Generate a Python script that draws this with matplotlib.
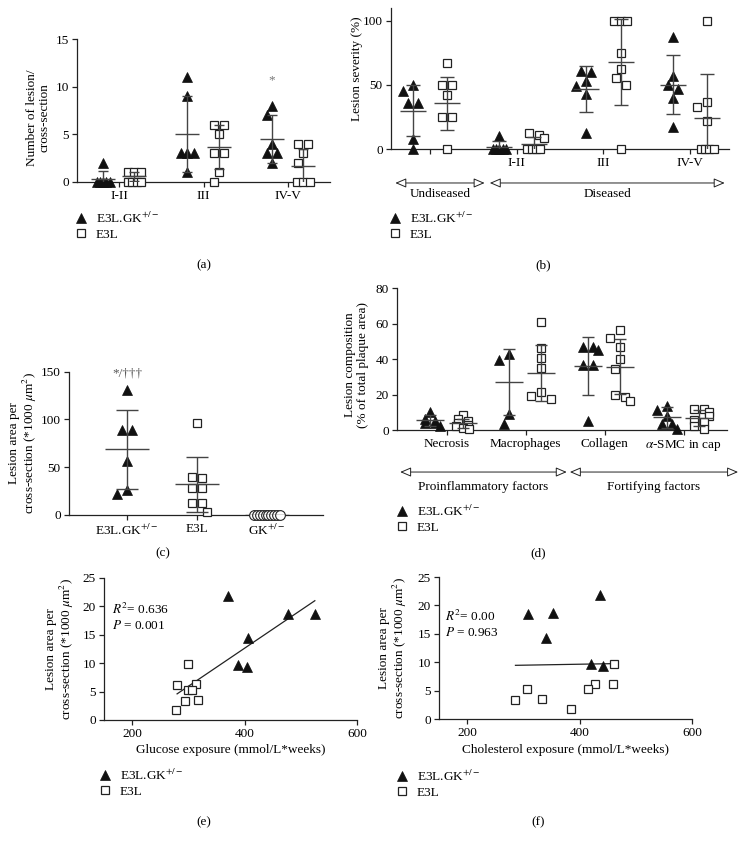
import numpy as np
import matplotlib
matplotlib.use('Agg')
import matplotlib.pyplot as plt
from matplotlib.lines import Line2D
from matplotlib.transforms import blended_transform_factory

plt.rcParams['font.family'] = ['Liberation Serif', 'DejaVu Serif']
plt.rcParams['mathtext.fontset'] = 'stix'
FS = 9.5
plt.rcParams['font.size'] = FS

# ---- données ----
# (a) nombre de lésions par section
a_cats = ['I-II', 'III', 'IV-V']
a_tri = [[2, 0, 0, 0, 0, 0], [11, 9, 3, 3, 3, 1], [8, 7, 4, 3, 3, 2]]
a_sq = [[1, 1, 1, 0, 0, 0, 0], [6, 6, 5, 3, 3, 1, 0], [4, 4, 3, 2, 0, 0, 0]]
a_tri_mean = [0.35, 5.0, 4.5]
a_tri_sd = [0.85, 4.0, 2.5]
a_sq_mean = [0.6, 3.7, 1.7]
a_sq_sd = [0.45, 2.3, 1.8]

# (b) sévérité des lésions (%)
b_cats = ['', 'I-II', 'III', 'IV-V']
b_tri = [[50, 45, 36, 36, 8, 0], [10, 0, 0, 0, 0, 0],
         [61, 60, 53, 49, 43, 12.5], [87, 57, 50, 47, 40, 17]]
b_sq = [[67, 50, 50, 42, 25, 25, 0], [12.5, 11, 8.5, 0, 0, 0, 0],
        [100, 100, 100, 75, 62.5, 55.5, 50, 0], [100, 37, 33, 22, 0, 0, 0, 0]]
b_tri_mean = [30, 1.8, 46.5, 50]
b_tri_sd = [20, 4.6, 18, 23]
b_sq_mean = [35.5, 3.7, 67.6, 24]
b_sq_sd = [20.5, 5.7, 33.5, 34.5]

# (c) surface des lésions
c_cats = ['E3L.GK$^{+/-}$', 'E3L', 'GK$^{+/-}$']
c_tri = [131, 89, 89, 56, 22, 26]
c_sq = [96, 40, 38, 28, 28, 12, 12, 3]
c_circ = [0, 0, 0, 0, 0, 0, 0, 0, 0, 0]
c_mean = [68.5, 32, 0]
c_sd = [42, 29, 0]

# (d) composition des lésions
d_cats = ['Necrosis', 'Macrophages', 'Collagen', '$\\alpha$-SMC in cap']
d_tri = [[10, 6, 5, 4, 4, 2], [42.8, 39.4, 9.2, 3.6],
         [47, 47, 45, 36.6, 36.6, 4.9], [13.6, 11.4, 7.9, 3.6, 3.6, 0.3]]
d_sq = [[8.5, 6, 5, 4, 3, 2, 1, 0.5], [61, 46.4, 40.6, 34.8, 21.5, 19.4, 17.4],
        [56.5, 52, 47, 40, 34.5, 20, 18.5, 16.5], [12, 12, 10, 8, 5.5, 4.5, 2, 0.5]]
d_tri_mean = [5.4, 26.9, 36.1, 7.1]
d_tri_sd = [3, 18.5, 16.2, 6]
d_sq_mean = [3.8, 32.3, 35.7, 7]
d_sq_sd = [2.5, 15.8, 15.5, 4.5]

# (e) glucose
e_tri_x = [370, 477, 525, 406, 389, 404]
e_tri_y = [21.9, 18.7, 18.6, 14.4, 9.7, 9.3]
e_sq_x = [299, 280, 314, 300, 307, 294, 317, 278]
e_sq_y = [9.8, 6.1, 6.3, 5.2, 5.2, 3.4, 3.5, 1.7]
e_fit_x = [280, 525]
e_fit_y = [4.6, 21.0]

# (f) cholestérol
f_tri_x = [436, 309, 353, 341, 420, 441]
f_tri_y = [21.8, 18.5, 18.7, 14.3, 9.6, 9.3]
f_sq_x = [462, 460, 427, 415, 306, 286, 333, 384]
f_sq_y = [9.75, 6.25, 6.1, 5.2, 5.2, 3.4, 3.45, 1.7]
f_fit_x = [286, 462]
f_fit_y = [9.45, 9.75]

W, H = 747, 847
fig = plt.figure(figsize=(W / 100, H / 100), dpi=100)
INK = '#222222'
BAR = '#444444'

MK = {
    'tri': dict(marker='^', ms=6.8, mfc='#111111', mec='#111111', mew=0.5),
    'sq': dict(marker='s', ms=6.2, mfc='white', mec=INK, mew=0.9),
    'circ': dict(marker='o', ms=7, mfc='white', mec=INK, mew=0.8),
}


def add_axes(l, t, r, b):
    return fig.add_axes([l / W, 1 - b / H, (r - l) / W, (b - t) / H])


def style(ax):
    for s in ['top', 'right']:
        ax.spines[s].set_visible(False)
    for s in ['left', 'bottom']:
        ax.spines[s].set_color(INK)
        ax.spines[s].set_linewidth(0.9)
    ax.tick_params(direction='out', length=3.5, width=0.9, color=INK,
                   labelsize=FS, pad=2.5)


def scale(ax):
    pos = ax.get_position()
    x0, x1 = ax.get_xlim()
    y0, y1 = ax.get_ylim()
    return pos.width * W / (x1 - x0), pos.height * H / (y1 - y0)


def swarm(vals, ppx, ppy, spread_px=13, tie_px=3, gap_px=10, hit_px=10):
    # points égaux : en ligne symétrique ; points proches : décalés de côté
    vals = np.asarray(vals, float)
    order = np.argsort(-vals, kind='stable')
    offs = np.zeros(len(vals))
    placed = []
    i = 0
    while i < len(order):
        top = vals[order[i]]
        j = i
        while j < len(order) and (top - vals[order[j]]) * ppy < tie_px:
            j += 1
        n = j - i
        if n > 1:
            step = min(gap_px, spread_px / (n - 1))
            for k, idx in enumerate(order[i:j]):
                offs[idx] = (k - (n - 1) / 2) * step
                placed.append((offs[idx], vals[idx] * ppy))
        else:
            idx = order[i]
            y = vals[idx] * ppy
            for c in [0, -gap_px / 2, gap_px / 2, -gap_px, gap_px]:
                if all(np.hypot(c - px, y - py) >= hit_px for px, py in placed):
                    break
            offs[idx] = c
            placed.append((c, y))
        i = j
    return offs / ppx


def column(ax, x0, vals, mean, sd, kind, mean_px, cap_px, spread_px=13):
    ppx, ppy = scale(ax)
    offs = swarm(vals, ppx, ppy, spread_px)
    ax.plot(x0 + offs, vals, linestyle='none', clip_on=False, zorder=3, **MK[kind])
    mh = mean_px / ppx
    ch = cap_px / ppx
    ax.hlines(mean, x0 - mh, x0 + mh, color=BAR, lw=1.0, zorder=4)
    if sd > 0:
        ax.vlines(x0, mean - sd, mean + sd, color=BAR, lw=1.0, zorder=4)
        ax.hlines([mean - sd, mean + sd], x0 - ch, x0 + ch, color=BAR, lw=1.0, zorder=4)


def legend(ax, x_px, y_px):
    h = [Line2D([], [], linestyle='none', **MK['tri']),
         Line2D([], [], linestyle='none', **MK['sq'])]
    ax.legend(h, ['E3L.GK$^{+/-}$', 'E3L'], loc='upper left',
              bbox_to_anchor=(x_px / W, 1 - y_px / H), bbox_transform=fig.transFigure,
              frameon=False, fontsize=FS, handlelength=0.8, handletextpad=0.7,
              labelspacing=0.2, borderpad=0, borderaxespad=0)


def bracket(ax, x0, x1, y, text, ty):
    tr = blended_transform_factory(ax.transData, ax.transAxes)
    ax.annotate('', xy=(x1, y), xytext=(x0, y), xycoords=tr, textcoords=tr,
                annotation_clip=False,
                arrowprops=dict(arrowstyle='<|-|>,head_length=0.7,head_width=0.3',
                                fc='white', ec=INK, lw=0.7, shrinkA=0, shrinkB=0))
    ax.text((x0 + x1) / 2, ty, text, transform=tr, ha='center', va='center', fontsize=FS)


def ylabel(ax, text, xf, yf=0.5):
    ax.set_ylabel(text, fontsize=FS, linespacing=1.05)
    ax.yaxis.set_label_coords(xf, yf)


# ---- (a) ----
ax = add_axes(77, 39, 330, 182)
style(ax)
ax.set_xlim(-0.5, 2.5)
ax.set_ylim(0, 15)
ax.set_yticks([0, 5, 10, 15])
ax.set_xticks(range(len(a_cats)))
ax.set_xticklabels(a_cats)
for i in range(len(a_cats)):
    column(ax, i - 0.19, a_tri[i], a_tri_mean[i], a_tri_sd[i], 'tri', 12, 5)
    column(ax, i + 0.18, a_sq[i], a_sq_mean[i], a_sq_sd[i], 'sq', 12, 5)
ax.text(2 - 0.19, 10.7, '*', ha='center', va='center', color='#777777', fontsize=FS)
ylabel(ax, 'Number of lesion/\ncross-section', -0.103, 0.45)
legend(ax, 76, 211)
fig.text(204 / W, 1 - 265 / H, '(a)', ha='center', va='center', fontsize=FS)

# ---- (b) ----
ax = add_axes(391, 8, 729, 149)
style(ax)
ax.set_xlim(-0.45, 3.45)
ax.set_ylim(0, 110)
ax.set_yticks([0, 50, 100])
ax.set_xticks(range(len(b_cats)))
ax.set_xticklabels(b_cats)
for i in range(len(b_cats)):
    column(ax, i - 0.2, b_tri[i], b_tri_mean[i], b_tri_sd[i], 'tri', 13, 7)
    column(ax, i + 0.2, b_sq[i], b_sq_mean[i], b_sq_sd[i], 'sq', 13, 7)
ylabel(ax, 'Lesion severity (%)', -0.083, 0.57)
bracket(ax, -0.40, 0.63, -0.241, 'Undiseased', -0.322)
bracket(ax, 0.69, 3.40, -0.241, 'Diseased', -0.322)
legend(ax, 390, 211)
fig.text(543 / W, 1 - 265 / H, '(b)', ha='center', va='center', fontsize=FS)

# ---- (c) ----
ax = add_axes(69, 372, 323, 514.5)
style(ax)
ax.set_xlim(-0.83, 2.8)
ax.set_ylim(0, 150)
ax.set_yticks([0, 50, 100, 150])
ax.set_xticks(range(len(c_cats)))
ax.set_xticklabels(c_cats)
column(ax, 0, c_tri, c_mean[0], c_sd[0], 'tri', 22, 11)
column(ax, 1, c_sq, c_mean[1], c_sd[1], 'sq', 22, 11)
column(ax, 2, c_circ, c_mean[2], c_sd[2], 'circ', 22, 11, spread_px=26)
ax.text(0, 148, '*/†††', ha='center', va='center', color='#555555', fontsize=FS)
ylabel(ax, 'Lesion area per\ncross-section (*1000 $\\mu$m$^2$)', -0.118, 0.5)
fig.text(163 / W, 1 - 553 / H, '(c)', ha='center', va='center', fontsize=FS)

# ---- (d) ----
ax = add_axes(397, 288, 727, 430)
style(ax)
ax.set_xlim(-0.63, 3.55)
ax.set_ylim(0, 80)
ax.set_yticks([0, 20, 40, 60, 80])
ax.set_xticks(range(len(d_cats)))
ax.set_xticklabels(d_cats)
for i in range(len(d_cats)):
    column(ax, i - 0.21, d_tri[i], d_tri_mean[i], d_tri_sd[i], 'tri', 14, 6)
    column(ax, i + 0.2, d_sq[i], d_sq_mean[i], d_sq_sd[i], 'sq', 14, 6)
ylabel(ax, 'Lesion composition\n(% of total plaque area)', -0.085, 0.46)
bracket(ax, -0.59, 1.52, -0.296, 'Proinflammatory factors', -0.398)
bracket(ax, 1.56, 3.69, -0.296, 'Fortifying factors', -0.398)
legend(ax, 397, 504)
fig.text(538 / W, 1 - 553 / H, '(d)', ha='center', va='center', fontsize=FS)


# ---- (e) et (f) ----
def regression(ax, tx, ty, sx, sy, fx, fy, xlabel, r2, p, tpos, yl_x):
    style(ax)
    ax.set_xlim(150, 600)
    ax.set_ylim(0, 25)
    ax.set_xticks([200, 400, 600])
    ax.set_yticks([0, 5, 10, 15, 20, 25])
    ax.plot(fx, fy, color=INK, lw=0.9, zorder=2)
    ax.plot(tx, ty, linestyle='none', clip_on=False, zorder=3, **MK['tri'])
    ax.plot(sx, sy, linestyle='none', clip_on=False, zorder=3, **MK['sq'])
    ax.set_xlabel(xlabel, fontsize=FS, labelpad=3)
    ax.text(tpos[0], tpos[1], '$R^2$= ' + r2, transform=ax.transAxes,
            ha='left', va='center', fontsize=FS)
    ax.text(tpos[0], tpos[2], '$P$ = ' + p, transform=ax.transAxes,
            ha='left', va='center', fontsize=FS)
    ylabel(ax, 'Lesion area per\ncross-section (*1000 $\\mu$m$^2$)', yl_x, 0.5)


ax = add_axes(104, 578, 357, 720)
regression(ax, e_tri_x, e_tri_y, e_sq_x, e_sq_y, e_fit_x, e_fit_y,
           'Glucose exposure (mmol/L*weeks)', '0.636', '0.001', (0.032, 0.775, 0.665), -0.11)
legend(ax, 100, 768)
fig.text(204 / W, 1 - 822 / H, '(e)', ha='center', va='center', fontsize=FS)

ax = add_axes(439, 577, 692, 719)
regression(ax, f_tri_x, f_tri_y, f_sq_x, f_sq_y, f_fit_x, f_fit_y,
           'Cholesterol exposure (mmol/L*weeks)', '0.00', '0.963', (0.024, 0.72, 0.61), -0.119)
legend(ax, 397, 769)
fig.text(538 / W, 1 - 822 / H, '(f)', ha='center', va='center', fontsize=FS)

fig.savefig('out.png', dpi=100, facecolor='white')
